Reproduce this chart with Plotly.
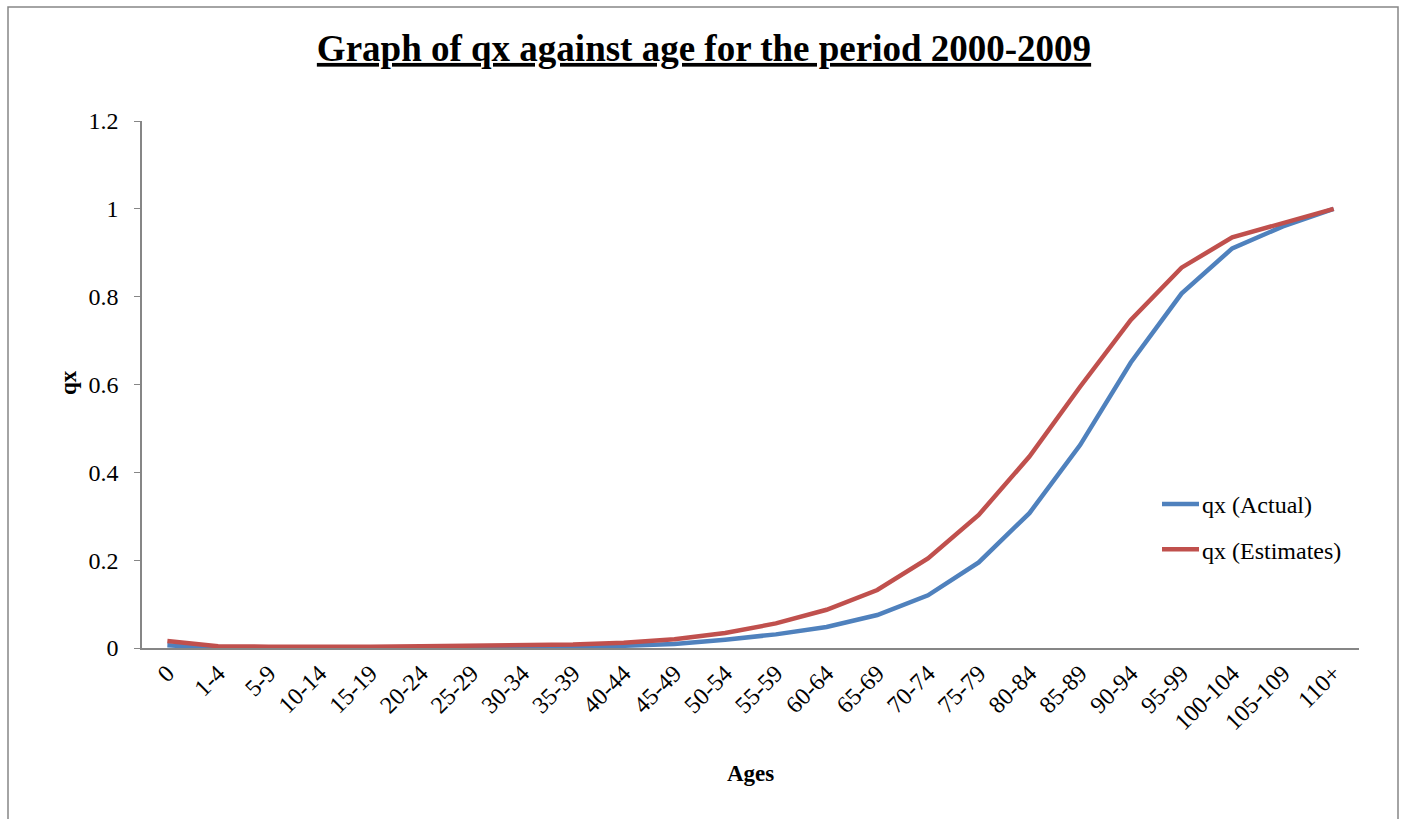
import plotly.graph_objects as go

ages = ["0", "1-4", "5-9", "10-14", "15-19", "20-24", "25-29", "30-34", "35-39",
        "40-44", "45-49", "50-54", "55-59", "60-64", "65-69", "70-74", "75-79",
        "80-84", "85-89", "90-94", "95-99", "100-104", "105-109", "110+"]
qx_actual = [0.006, 0.0008, 0.0004, 0.0005, 0.001, 0.0012, 0.0015, 0.002, 0.003,
             0.005, 0.009, 0.019, 0.031, 0.048, 0.075, 0.12, 0.195,
             0.307, 0.462, 0.65, 0.807, 0.91, 0.96, 1.0]
qx_estimates = [0.016, 0.004, 0.003, 0.002, 0.003, 0.004, 0.005, 0.006, 0.008,
                0.012, 0.02, 0.034, 0.056, 0.087, 0.132, 0.204, 0.303,
                0.436, 0.595, 0.747, 0.866, 0.935, 0.968, 1.0]
y_ticks = [0, 0.2, 0.4, 0.6, 0.8, 1, 1.2]
y_tick_text = ["0", "0.2", "0.4", "0.6", "0.8", "1", "1.2"]

FONT = "Liberation Serif, Times New Roman, serif"

W, H = 1403, 819
# target pixel positions of the plot area
PL, PR, PT, PB = 142, 1359, 121, 648
L, T, R, B = PL, PT, W - PR, H - PB
pw, ph = W - L - R, H - T - B

def px(xp):
    return (xp - PL) / pw

def py(yp):
    return (PB - yp) / ph

fig = go.Figure()
fig.add_trace(go.Scatter(x=ages, y=qx_actual, mode="lines", name="qx (Actual)",
                         legendgroup="a",
                         line=dict(color="#4F81BD", width=4.5)))
fig.add_trace(go.Scatter(x=ages, y=qx_estimates, mode="lines", name="qx (Estimates)",
                         legendgroup="b",
                         line=dict(color="#C0504D", width=4.5)))

fig.update_layout(
    width=W, height=H,
    margin=dict(l=L, r=R, t=T, b=B),
    paper_bgcolor="white", plot_bgcolor="white",
    font=dict(family=FONT, size=24, color="black"),
    title=dict(text="<b><u>Graph of qx against age for the period 2000-2009</u></b>",
               x=px(704), xref="paper", xanchor="center",
               y=1 - 48 / H, yref="container", yanchor="middle",
               font=dict(family=FONT, size=37, color="black")),
    showlegend=True,
    legend=dict(x=px(1162), y=py(482), xanchor="left", yanchor="top",
                bgcolor="rgba(0,0,0,0)", font=dict(family=FONT, size=24),
                tracegroupgap=11, itemwidth=30),
    xaxis=dict(type="category", range=[-0.5, len(ages) - 0.5],
               showline=True, linecolor="#868686", linewidth=1.5,
               showgrid=False, zeroline=False, tickangle=-45,
               ticks="", tickfont=dict(family=FONT, size=24)),
    yaxis=dict(range=[0, 1.2], tickvals=y_ticks, ticktext=y_tick_text,
               showline=True, linecolor="#868686", linewidth=1.5,
               showgrid=False, zeroline=False,
               ticks="outside", ticklen=6, tickcolor="#868686",
               ticklabelstandoff=11, tickfont=dict(family=FONT, size=24)),
)

fig.add_annotation(text="<b>qx</b>", textangle=-90, x=px(68), y=py(383),
                   xref="paper", yref="paper", showarrow=False,
                   xanchor="center", yanchor="middle",
                   font=dict(family=FONT, size=23, color="black"))
fig.add_annotation(text="<b>Ages</b>", x=px(750), y=py(773),
                   xref="paper", yref="paper", showarrow=False,
                   xanchor="center", yanchor="middle",
                   font=dict(family=FONT, size=23, color="black"))

fig.add_shape(type="rect", xref="paper", yref="paper",
              x0=px(8), x1=px(1398), y0=py(850), y1=py(7),
              line=dict(color="#868686", width=1.5), fillcolor="rgba(0,0,0,0)",
              layer="below")

post = (
    "document.body.style.margin='0';document.body.style.overflow='hidden';"
    "document.querySelectorAll('.legendlines path').forEach(function(p){p.setAttribute('d','M-13,0h50');});"
)
fig.write_html("out.html", config={"displayModeBar": False}, post_script=post)
